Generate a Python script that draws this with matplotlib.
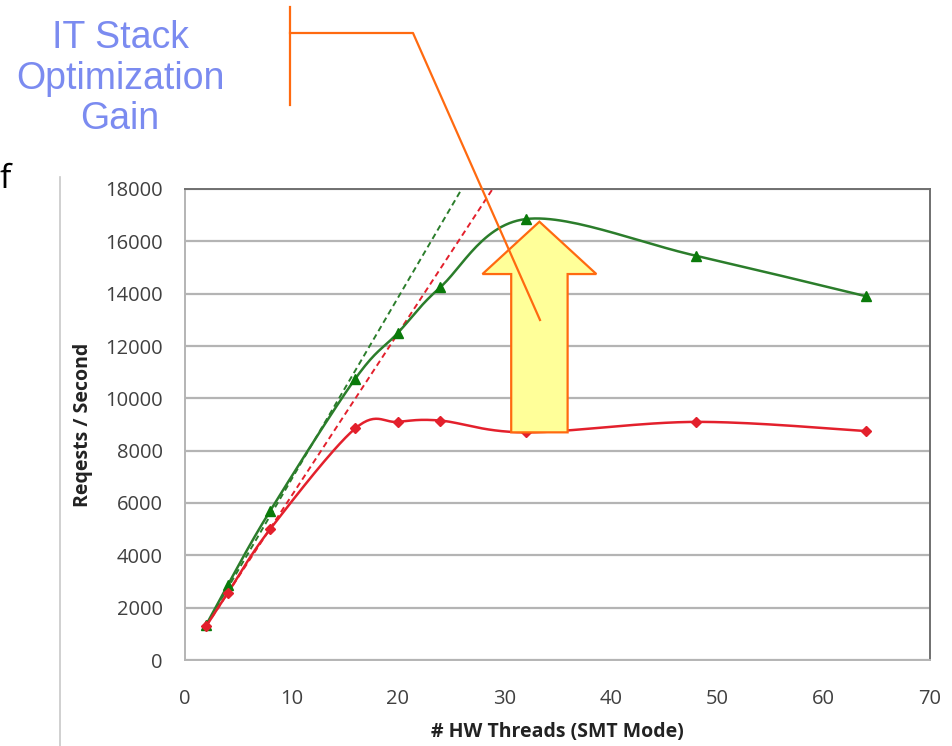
import matplotlib

matplotlib.use("Agg")
import matplotlib.pyplot as plt
import numpy as np
from matplotlib.lines import Line2D
from matplotlib.patches import Polygon

# throughput vs. hardware threads
threads = [2, 4, 8, 16, 20, 24, 32, 48, 64]
optimized = [1350, 2850, 5700, 10750, 12500, 14250, 16850, 15450, 13900]
baseline = [1300, 2550, 5000, 8850, 9100, 9150, 8700, 9100, 8750]

# ideal linear-scaling reference lines (start, end)
ideal_x_opt = [2, 26]
ideal_opt = [1350, 18000]
ideal_x_base = [2, 28.9]
ideal_base = [1300, 18000]

x_ticks = [0, 10, 20, 30, 40, 50, 60, 70]
y_ticks = [0, 2000, 4000, 6000, 8000, 10000, 12000, 14000, 16000, 18000]

GREEN = "#2b7d2b"
GREEN_MK = "#0a7a0a"
RED = "#e3202c"
ORANGE = "#ff6a10"
FONT = ["Open Sans", "DejaVu Sans"]

W, H = 952, 746


def smooth(xs, ys, sx, sy, n=30):
    """Catmull-Rom curve through the points, computed in screen-like units."""
    p = np.column_stack([np.asarray(xs, float) * sx, np.asarray(ys, float) * sy])
    p = np.vstack([p[0], p, p[-1]])
    out = []
    for i in range(1, len(p) - 2):
        p0, p1, p2, p3 = p[i - 1], p[i], p[i + 1], p[i + 2]
        t = np.linspace(0, 1, n)[:, None]
        seg = 0.5 * ((2 * p1) + (-p0 + p2) * t
                     + (2 * p0 - 5 * p1 + 4 * p2 - p3) * t ** 2
                     + (-p0 + 3 * p1 - 3 * p2 + p3) * t ** 3)
        out.append(seg if i == 1 else seg[1:])
    out = np.vstack(out)
    return out[:, 0] / sx, out[:, 1] / sy


fig = plt.figure(figsize=(W / 100, H / 100), dpi=100)
ax = fig.add_axes([185 / W, 86 / H, 745 / W, 471 / H])
ax.set_xlim(0, 70)
ax.set_ylim(0, 18000)

sx, sy = 745 / 70, 471 / 18000

# dashed ideal scaling
ax.plot(ideal_x_opt, ideal_opt, "--", color=GREEN, lw=1.4, dashes=(3, 2))
ax.plot(ideal_x_base, ideal_base, "--", color=RED, lw=1.4, dashes=(3, 2))

gx, gy = smooth(threads, optimized, sx, sy)
rx, ry = smooth(threads, baseline, sx, sy)
ax.plot(gx, gy, color=GREEN, lw=1.8, zorder=3)
ax.plot(rx, ry, color=RED, lw=1.8, zorder=3)
ax.plot(threads, optimized, ls="none", marker="^", ms=7, color=GREEN_MK, zorder=4)
ax.plot(threads, baseline, ls="none", marker="D", ms=5.5, color=RED, zorder=4)

# gain arrow at 32 threads, from baseline up to optimized
i32 = threads.index(32)
cx = 33.3
y0, y1 = baseline[i32], optimized[i32] - 100
head = y1 - 2000
arrow = Polygon([(cx - 2.65, y0), (cx + 2.65, y0), (cx + 2.65, head), (cx + 5.35, head),
                 (cx, y1), (cx - 5.35, head), (cx - 2.65, head)],
                closed=True, facecolor="#ffff99", edgecolor=ORANGE, lw=1.6, zorder=5)
ax.add_patch(arrow)

ax.set_xticks(x_ticks)
ax.set_yticks(y_ticks)
ax.tick_params(length=0, labelsize=14.5, colors="#404040")
ax.tick_params(axis="y", pad=16)
ax.tick_params(axis="x", pad=21)
for lab in ax.get_xticklabels() + ax.get_yticklabels():
    lab.set_family(FONT)
ax.yaxis.grid(True, color="#b4b4b4", lw=1.6)
ax.set_axisbelow(True)
for side in ("top", "right"):
    ax.spines[side].set_color("#707070")
for side in ("left", "bottom"):
    ax.spines[side].set_color("#b4b4b4")
for s in ax.spines.values():
    s.set_linewidth(1.4)

ax.set_xlabel("# HW Threads (SMT Mode)", fontsize=14, fontweight="bold",
              family=FONT, labelpad=9, color="#222222")
ax.set_ylabel("Reqests / Second", fontsize=14, fontweight="bold",
              family=FONT, labelpad=9, color="#222222")

# slide elements around the chart (figure pixels, origin top-left)
def px(x, y):
    return x / W, 1 - y / H

fig.add_artist(Line2D([60 / W, 60 / W], [0, 1 - 177 / H], color="#c8c8c8", lw=1.2))
fig.text(*px(-1, 188), "f", fontsize=24, family=FONT, color="black", va="baseline")

for label, y in (("IT Stack", 38), ("Optimization", 79), ("Gain", 119)):
    fig.text(*px(120, y), label, fontsize=27, family=["Liberation Sans", "DejaVu Sans"],
             color="#7b8bf0", ha="center", va="center")

callout = [(290, 105), (290, 7), (290, 33), (413, 33), (540, 320)]
fig.add_artist(Line2D([px(290, 105)[0], px(290, 7)[0]], [px(290, 105)[1], px(290, 7)[1]],
                      color=ORANGE, lw=1.6))
xs, ys = zip(*[px(x, y) for x, y in callout[2:]])
fig.add_artist(Line2D(xs, ys, color=ORANGE, lw=1.6, zorder=10))

fig.savefig("out.png", dpi=100, facecolor="white")
